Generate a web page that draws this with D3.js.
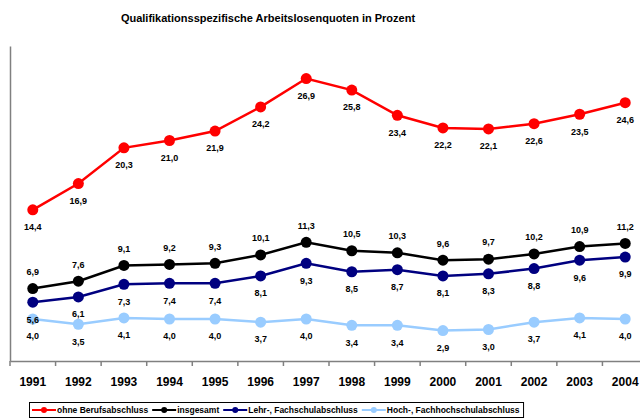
<!DOCTYPE html>
<html>
<head>
<meta charset="utf-8">
<script src="https://cdn.jsdelivr.net/npm/d3@7"></script>
<style>
  body { margin: 0; background: #fff; }
  svg { display: block; font-family: "Liberation Sans", Arial, sans-serif; }
</style>
</head>
<body>
<div id="chart"></div>
<script>
const years = ["1991", "1992", "1993", "1994", "1995", "1996", "1997",
  "1998", "1999", "2000", "2001", "2002", "2003", "2004"];
const seriesNames = ["ohne Berufsabschluss", "insgesamt",
  "Lehr-, Fachschulabschluss", "Hoch-, Fachhochschulabschluss"];
const ohneValues = [14.4, 16.9, 20.3, 21.0, 21.9, 24.2, 26.9, 25.8, 23.4, 22.2, 22.1, 22.6, 23.5, 24.6];
const insgesamtValues = [6.9, 7.6, 9.1, 9.2, 9.3, 10.1, 11.3, 10.5, 10.3, 9.6, 9.7, 10.2, 10.9, 11.2];
const lehrValues = [5.6, 6.1, 7.3, 7.4, 7.4, 8.1, 9.3, 8.5, 8.7, 8.1, 8.3, 8.8, 9.6, 9.9];
const hochValues = [4.0, 3.5, 4.1, 4.0, 4.0, 3.7, 4.0, 3.4, 3.4, 2.9, 3.0, 3.7, 4.1, 4.0];

const colors = ["#ff0000", "#000000", "#000080", "#99ccff"];
// label offset: -1 above point, 1 below point
const labelSide = [1, -1, 1, 1];

const series = [ohneValues, insgesamtValues, lehrValues, hochValues].map((vals, i) => ({
  name: seriesNames[i],
  color: colors[i],
  side: labelSide[i],
  values: vals.map((v, j) => ({ year: years[j], value: v }))
}));

const width = 640, height = 419;
const plot = { left: 10, right: 648, top: 46, bottom: 361 };

const svg = d3.select("#chart").append("svg")
  .attr("width", width)
  .attr("height", height);

// title
svg.append("text")
  .attr("x", 268)
  .attr("y", 22)
  .attr("text-anchor", "middle")
  .style("font-size", "11px")
  .style("font-weight", "bold")
  .text("Qualifikationsspezifische Arbeitslosenquoten in Prozent");

const x = d3.scaleBand().domain(years).range([plot.left, plot.right]);
const y = d3.scaleLinear().domain([0, 30]).range([plot.bottom, plot.top]);

// y axis line (no labels)
svg.append("g")
  .attr("transform", `translate(${plot.left},0)`)
  .call(d3.axisLeft(y).tickValues([]).tickSizeOuter(0))
  .call(g => g.select(".domain").attr("stroke", "#808080").attr("stroke-width", 1.5));

// x axis with ticks between categories
const xAxis = svg.append("g")
  .attr("transform", `translate(0,${plot.bottom})`)
  .call(d3.axisBottom(x).tickSize(0).tickSizeOuter(0).tickPadding(16));
xAxis.select(".domain").attr("stroke", "#808080").attr("stroke-width", 1.5);
xAxis.selectAll("text")
  .style("font-size", "12px")
  .style("font-weight", "bold")
  .style("font-family", "'Liberation Sans', Arial, sans-serif")
  .attr("fill", "#000");
xAxis.selectAll(".sep")
  .data(years)
  .join("line")
  .attr("class", "sep")
  .attr("x1", d => x(d))
  .attr("x2", d => x(d))
  .attr("y1", 0)
  .attr("y2", 5)
  .attr("stroke", "#808080")
  .attr("stroke-width", 1.5);

const cx = d => x(d.year) + x.bandwidth() / 2;
const line = d3.line().x(cx).y(d => y(d.value));

// draw from last to first so red is on top
const groups = svg.selectAll(".series")
  .data(series.slice().reverse())
  .join("g")
  .attr("class", "series");

groups.append("path")
  .attr("d", d => line(d.values))
  .attr("fill", "none")
  .attr("stroke", d => d.color)
  .attr("stroke-width", 2.5);

groups.selectAll("circle")
  .data(d => d.values.map(v => ({ ...v, color: d.color })))
  .join("circle")
  .attr("cx", cx)
  .attr("cy", d => y(d.value))
  .attr("r", 5.5)
  .attr("fill", d => d.color);

groups.selectAll(".lbl")
  .data(d => d.values.map(v => ({ ...v, side: d.side })))
  .join("text")
  .attr("class", "lbl")
  .attr("x", cx)
  .attr("y", d => y(d.value) + d.side * 17 + 3.3)
  .attr("text-anchor", "middle")
  .style("font-size", "9px")
  .style("font-weight", "bold")
  .text(d => d.value.toFixed(1).replace(".", ","));

// legend
const legend = svg.append("g");
const legendItems = legend.selectAll("g")
  .data(series)
  .join("g");
legendItems.append("line")
  .attr("x1", 0).attr("x2", 24)
  .attr("y1", 0).attr("y2", 0)
  .attr("stroke", d => d.color)
  .attr("stroke-width", 2);
legendItems.append("circle")
  .attr("cx", 12).attr("cy", 0).attr("r", 3)
  .attr("fill", d => d.color);
legendItems.append("text")
  .attr("x", 25)
  .attr("y", 3)
  .style("font-size", "8.5px")
  .style("font-weight", "bold")
  .text(d => d.name);

let lx = 32;
legendItems.each(function () {
  const g = d3.select(this);
  g.attr("transform", `translate(${lx},410)`);
  lx += 25 + g.select("text").node().getComputedTextLength() + 4;
});
legend.insert("rect", ":first-child")
  .attr("x", 29.5)
  .attr("y", 402.5)
  .attr("width", lx - 29.5)
  .attr("height", 15)
  .attr("fill", "#fff")
  .attr("stroke", "#000")
  .attr("stroke-width", 1);
</script>
</body>
</html>
